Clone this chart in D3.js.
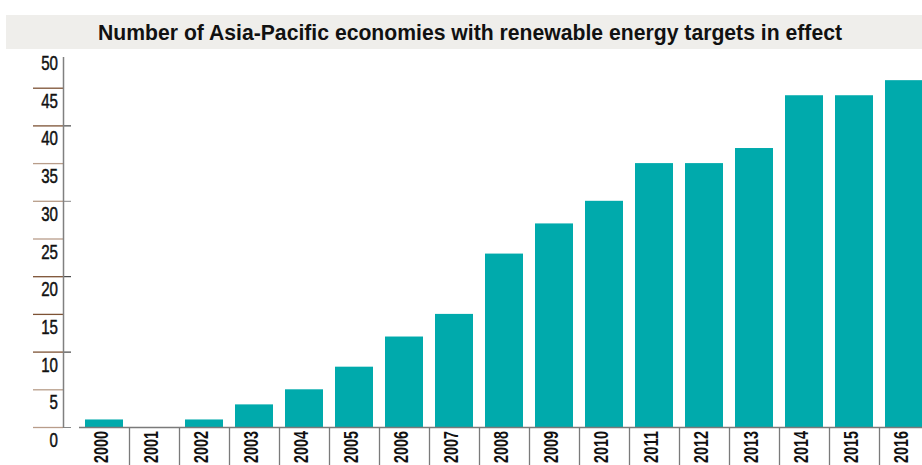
<!DOCTYPE html>
<html>
<head>
<meta charset="utf-8">
<script src="https://cdn.jsdelivr.net/npm/d3@7"></script>
<style>
  body { margin: 0; background: #fff; }
  svg { display: block; }
</style>
</head>
<body>
<div id="chart"></div>
<script>
var years = ["2000","2001","2002","2003","2004","2005","2006","2007","2008",
             "2009","2010","2011","2012","2013","2014","2015","2016"];
var economies = [1, 0, 1, 3, 5, 8, 12, 15, 23, 27, 30, 35, 35, 37, 44, 44, 46];
var yTicks = [0, 5, 10, 15, 20, 25, 30, 35, 40, 45, 50];
var title = "Number of Asia-Pacific economies with renewable energy targets in effect";

var width = 922,
    height = 465;
var font = "'Liberation Sans', Arial, sans-serif";

var svg = d3.select("#chart")
    .append("svg")
    .attr("width", width)
    .attr("height", height);

var x = d3.scaleBand()
    .domain(years)
    .range([79, 79 + years.length * 50])
    .paddingInner(0.24)
    .paddingOuter(0.12);

var y = d3.scaleLinear()
    .domain([0, 50])
    .range([427, 50]);

// title bar
svg.append("rect")
    .attr("x", 6)
    .attr("y", 15)
    .attr("width", width - 6)
    .attr("height", 34)
    .attr("fill", "#efeeeb");

svg.append("text")
    .attr("x", 470)
    .attr("y", 40)
    .attr("text-anchor", "middle")
    .attr("font-family", font)
    .attr("font-weight", "bold")
    .attr("font-size", 22)
    .attr("textLength", 744)
    .attr("lengthAdjust", "spacingAndGlyphs")
    .attr("fill", "#111")
    .text(title);

// bars
svg.selectAll(".bar")
    .data(economies)
    .enter().append("rect")
    .attr("class", "bar")
    .attr("x", function(d, i) { return x(years[i]) })
    .attr("y", function(d) { return y(d) })
    .attr("width", x.bandwidth())
    .attr("height", function(d) { return y(0) - y(d) })
    .attr("fill", "#00aaac");

// y axis: brown guide lines left of the axis, labels below each line
var darkTicks = [45, 40, 20, 15, 10];
svg.selectAll(".yline")
    .data(yTicks.filter(function(d) { return d < 50 }))
    .enter().append("line")
    .attr("class", "yline")
    .attr("x1", 33)
    .attr("x2", 63)
    .attr("y1", function(d) { return y(d) + 0.5 })
    .attr("y2", function(d) { return y(d) + 0.5 })
    .attr("stroke", function(d) { return darkTicks.indexOf(d) >= 0 ? "#7d5234" : "#b89d8a" })
    .attr("stroke-width", 1.3);

svg.selectAll(".ytick")
    .data(yTicks.filter(function(d) { return d % 10 == 0 && d < 50 }))
    .enter().append("line")
    .attr("class", "ytick")
    .attr("x1", 63)
    .attr("x2", 71)
    .attr("y1", function(d) { return y(d) + 0.5 })
    .attr("y2", function(d) { return y(d) + 0.5 })
    .attr("stroke", function(d) { return (d == 0 || d == 30) ? "#888" : "#222" })
    .attr("stroke-width", 1);

svg.append("line")
    .attr("x1", 63.5)
    .attr("x2", 63.5)
    .attr("y1", 57)
    .attr("y2", y(0) + 1)
    .attr("stroke", "#808080")
    .attr("stroke-width", 1.5);

svg.selectAll(".ylabel")
    .data(yTicks)
    .enter().append("text")
    .attr("class", "ylabel")
    .attr("x", 58)
    .attr("y", function(d) { return y(d) + 20 })
    .attr("text-anchor", "end")
    .attr("font-family", font)
    .attr("font-size", 21)
    .attr("textLength", function(d) { return String(d).length * 8.4 })
    .attr("lengthAdjust", "spacingAndGlyphs")
    .attr("fill", "#111")
    .attr("stroke", "#111")
    .attr("stroke-width", 0.5)
    .text(function(d) { return d });

// baseline and category separators
svg.append("line")
    .attr("x1", 79)
    .attr("x2", width)
    .attr("y1", y(0) + 0.5)
    .attr("y2", y(0) + 0.5)
    .attr("stroke", "#7a7a7a")
    .attr("stroke-width", 1.3);

svg.selectAll(".sep")
    .data(years.slice(1))
    .enter().append("line")
    .attr("class", "sep")
    .attr("x1", function(d) { return x(d) - x.step() * x.paddingOuter() + 0.5 })
    .attr("x2", function(d) { return x(d) - x.step() * x.paddingOuter() + 0.5 })
    .attr("y1", y(0))
    .attr("y2", height)
    .attr("stroke", "#7a7a7a")
    .attr("stroke-width", 1.3);

svg.selectAll(".xlabel")
    .data(years)
    .enter().append("text")
    .attr("class", "xlabel")
    .attr("transform", function(d) {
        return "translate(" + (x(d) + x.bandwidth() / 2 + 4) + "," + 431 + ") rotate(-90)"
    })
    .attr("text-anchor", "end")
    .attr("font-family", font)
    .attr("font-weight", "bold")
    .attr("font-size", 21)
    .attr("textLength", 32)
    .attr("lengthAdjust", "spacingAndGlyphs")
    .attr("fill", "#111")
    .text(function(d) { return d });
</script>
</body>
</html>
